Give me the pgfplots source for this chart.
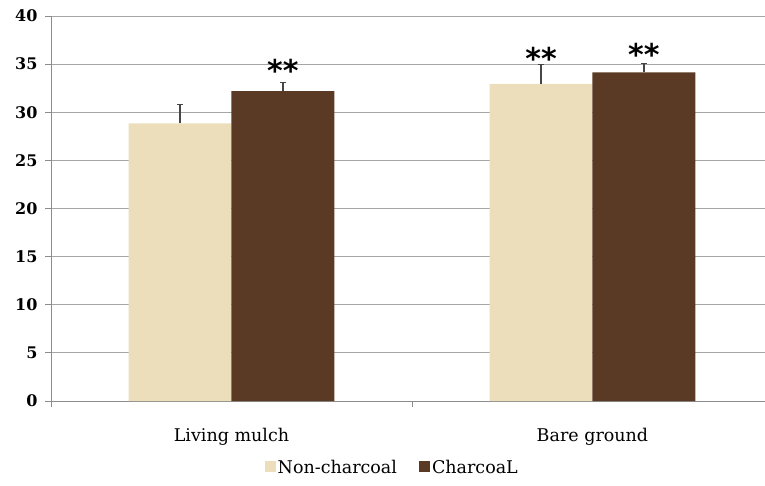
\documentclass[border=0pt]{standalone}
\usepackage{pgfplots}
\pgfplotsset{compat=1.18}
\usepackage{fontspec}
\setmainfont{DejaVu Serif}
\newfontfamily\astf{DejaVu Sans}
\definecolor{noncc}{RGB}{236,222,186}
\definecolor{charc}{RGB}{90,58,36}
\definecolor{gridc}{RGB}{165,165,165}
\definecolor{axc}{RGB}{140,140,140}
\definecolor{errc}{RGB}{70,70,70}
\begin{document}
\begin{tikzpicture}[x=1pt,y=1pt]
\path[use as bounding box] (0,0) rectangle (765,485);
\begin{axis}[
  at={(51pt,84pt)}, anchor=south west,
  width=714pt, height=385pt, scale only axis,
  /pgf/number format/assume math mode=true,
  xmin=-0.5, xmax=1.478, ymin=0, ymax=40,
  ytick={0,5,...,40},
  xtick={-0.5,0.5}, xticklabels={},
  extra x ticks={0,1},
  extra x tick labels={Living mulch, Bare ground},
  extra x tick style={major tick length=0pt, grid=none},
  axis x line*=bottom, axis y line*=left,
  axis line style={axc, line width=0.8pt},
  tick style={axc, line width=0.8pt},
  tick align=outside, major tick length=6pt,
  ymajorgrids, grid style={gridc, line width=0.8pt},
  yticklabel style={font=\fontsize{16}{16}\selectfont\bfseries, xshift=-4pt},
  xticklabel style={font=\fontsize{17.5}{17.5}\selectfont, yshift=-24pt},
  legend style={at={(0.478,-0.174)}, anchor=center, draw=none,
    legend columns=2, font=\fontsize{17.5}{17.5}\selectfont,
    /tikz/every even column/.append style={column sep=20pt}},
  legend image code/.code={\fill[#1] (0pt,-4pt) rectangle (11pt,7pt);},
]
\addplot[ybar, bar width=102.9pt, bar shift=-51.45pt, fill=noncc, draw=none,
  error bars/.cd, y dir=plus, y explicit, error mark=none,
  error bar style={draw=errc, line width=1.3pt, xshift=-51.45pt}]
  coordinates {(0,28.85) +- (0,1.95) (1,32.95) +- (0,2.05)};
\addlegendentry{Non-charcoal}
\addplot[ybar, bar width=102.9pt, bar shift=51.45pt, fill=charc, draw=none,
  error bars/.cd, y dir=plus, y explicit, error mark=none,
  error bar style={draw=errc, line width=1.3pt, xshift=51.45pt}]
  coordinates {(0,32.2) +- (0,0.9) (1,34.15) +- (0,0.95)};
\addlegendentry{CharcoaL}
\addplot[only marks, mark=-, mark size=3pt, draw=errc, line width=1.2pt,
  mark options={draw=errc, line width=1.2pt}, forget plot]
  coordinates {(-0.1425,30.8) (0.1425,33.1) (0.8575,35.0) (1.1425,35.1)};
\node[font=\astf\bfseries\fontsize{30}{30}\selectfont, anchor=center] at (axis cs:0.1425,34.3) {**};
\node[font=\astf\bfseries\fontsize{30}{30}\selectfont, anchor=center] at (axis cs:0.8575,35.6) {**};
\node[font=\astf\bfseries\fontsize{30}{30}\selectfont, anchor=center] at (axis cs:1.1425,36.0) {**};
\end{axis}
\end{tikzpicture}
\end{document}
